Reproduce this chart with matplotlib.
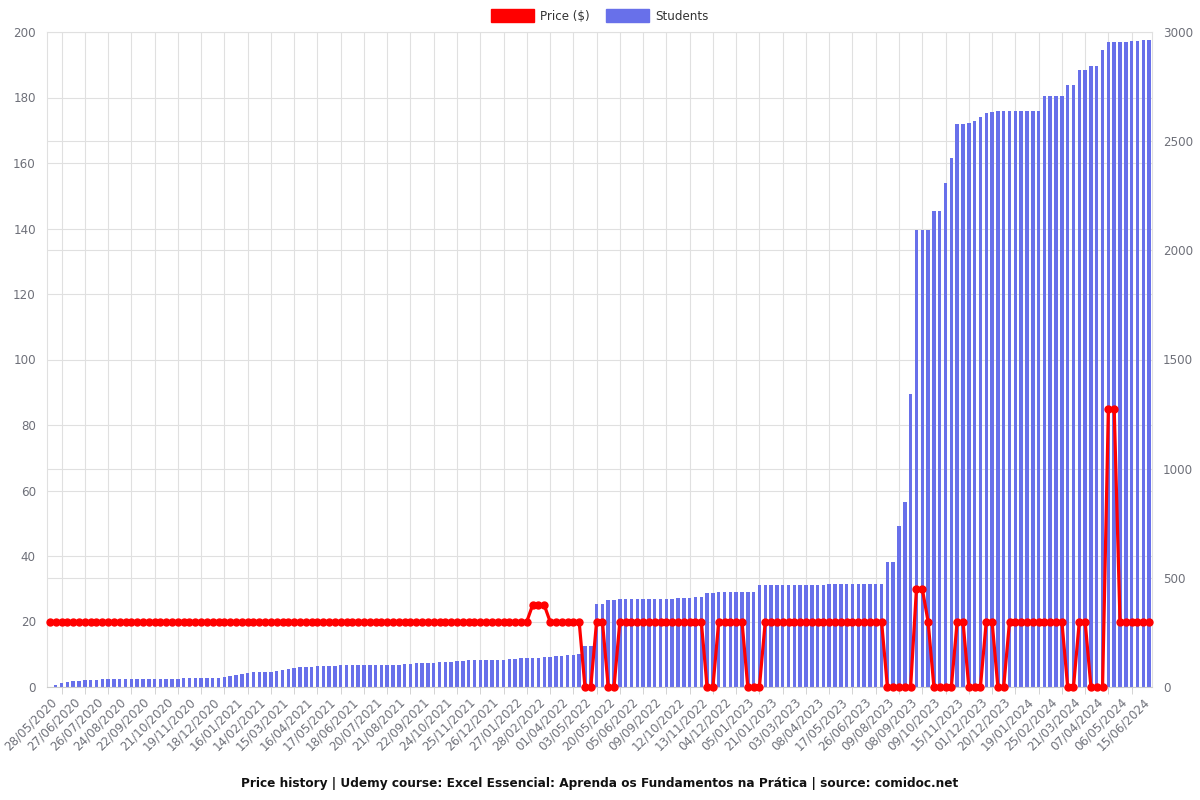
import matplotlib.pyplot as plt
from matplotlib.patches import Patch
from matplotlib.ticker import MultipleLocator, FixedLocator

# Etiquetas del eje X (una cada 4 fechas)
tick_labels = [
    "28/05/2020", "27/06/2020", "26/07/2020", "24/08/2020", "22/09/2020", "21/10/2020",
    "19/11/2020", "18/12/2020", "16/01/2021", "14/02/2021", "15/03/2021", "16/04/2021",
    "17/05/2021", "18/06/2021", "20/07/2021", "21/08/2021", "22/09/2021", "24/10/2021",
    "25/11/2021", "26/12/2021", "27/01/2022", "28/02/2022", "01/04/2022", "03/05/2022",
    "20/05/2022", "05/06/2022", "09/09/2022", "12/10/2022", "13/11/2022", "04/12/2022",
    "05/01/2023", "21/01/2023", "03/03/2023", "08/04/2023", "17/05/2023", "26/06/2023",
    "09/08/2023", "08/09/2023", "09/10/2023", "15/11/2023", "01/12/2023", "20/12/2023",
    "19/01/2024", "25/02/2024", "21/03/2024", "07/04/2024", "06/05/2024", "15/06/2024",
]

# Precio ($) por fecha
price = ([20] * 83 + [25] * 3 + [20] * 6 + [0] * 2 + [20] * 2 + [0] * 2 + [20] * 15
         + [0] * 2 + [20] * 5 + [0] * 3 + [20] * 21 + [0] * 5 + [30] * 2 + [20]
         + [0] * 4 + [20] * 2 + [0] * 3 + [20] * 2 + [0] * 2 + [20] * 10 + [0] * 2
         + [20] * 2 + [0] * 3 + [85] * 2 + [20] * 6)

# Estudiantes por fecha
students = [
    0, 8, 18, 23, 26, 29, 31, 32, 34, 35, 36, 37, 37, 38,
    38, 38, 38, 38, 38, 38, 38, 38, 38,
    39, 39, 39, 40, 40, 40, 41,
    48, 50, 54, 61, 66, 67, 67, 67, 69, 72, 76, 82, 89, 90, 90, 92, 95, 97, 98, 98,
    99, 99, 102, 102, 102, 102, 102, 102, 102, 102, 102, 104, 107, 109, 110, 110,
    112, 113, 115, 116, 118, 121, 122, 122, 122, 122, 124, 125, 125, 128, 130, 131,
    133, 133, 134, 136, 138, 141, 144, 145, 147, 150, 186, 186, 382, 382, 399, 400,
    403, 403, 403, 403,
    405, 405, 405, 405, 405, 405, 406, 408, 409, 414, 414, 429, 431,
    437, 437, 437, 437, 437, 437, 437,
    469, 469, 469, 469, 469, 469, 469, 469, 469, 469, 469, 469,
    473, 473, 473, 473, 473, 473, 473, 473, 473, 473,
    573, 573, 736, 849, 1344, 2093, 2093, 2093, 2180, 2180, 2308, 2423,
    2579, 2580, 2585, 2592, 2610, 2630, 2632,
    2638, 2638, 2640, 2640, 2640, 2640, 2640, 2640,
    2709, 2709, 2709, 2709, 2755, 2755, 2828, 2828, 2846, 2846, 2916,
    2954, 2954, 2954, 2954, 2959, 2959, 2965, 2965,
]

GRAY = "#6E7079"
GRID = "#E0E0E0"
BAR = "#6870EA"

x = list(range(len(students)))

fig = plt.figure(figsize=(12, 8), dpi=100)
fig.subplots_adjust(left=47 / 1200, right=1152 / 1200, top=1 - 32 / 800, bottom=1 - 687 / 800)

# Eje de estudiantes (barras) y eje de precio (línea, encima)
ax_s = fig.add_subplot(111)
ax_p = ax_s.twinx()

ax_s.bar(x, students, width=0.6, color=BAR, zorder=2)
ax_s.set_xlim(-0.5, len(students) - 0.5)
ax_s.set_ylim(0, 3000)
ax_s.yaxis.tick_right()
ax_s.yaxis.set_label_position("right")
ax_s.yaxis.set_major_locator(MultipleLocator(500))
ax_s.yaxis.set_minor_locator(MultipleLocator(300))
ax_s.tick_params(axis="y", which="both", length=0, pad=8, labelsize=8.6,
                 labelcolor=GRAY, left=False, labelleft=False, right=True, labelright=True)
ax_s.grid(axis="y", which="both", color=GRID, linewidth=0.8, zorder=0)

ax_s.set_xticks(range(0, len(students), 4))
ax_s.set_xticklabels(tick_labels, rotation=45, ha="right", rotation_mode="anchor",
                     fontsize=8.6, color=GRAY)
ax_s.xaxis.set_minor_locator(FixedLocator(range(2, len(students), 4)))
ax_s.tick_params(axis="x", which="major", length=0, pad=6)
ax_s.tick_params(axis="x", which="minor", length=5, color="#CCCCCC")
ax_s.grid(axis="x", which="minor", color=GRID, linewidth=0.8, zorder=0)
ax_s.set_axisbelow(True)
for side in ["left", "right", "top"]:
    ax_s.spines[side].set_color(GRID)
ax_s.spines["bottom"].set_color("#CCCCCC")

ax_p.plot(x, price, color="red", linewidth=2.3, marker="o", markersize=5,
          clip_on=False, zorder=3)
ax_p.set_ylim(0, 200)
ax_p.yaxis.tick_left()
ax_p.yaxis.set_major_locator(MultipleLocator(20))
ax_p.tick_params(axis="y", length=0, pad=8, labelsize=8.6, labelcolor=GRAY,
                 right=False, labelright=False, left=True, labelleft=True)
for side in ["left", "right", "top", "bottom"]:
    ax_p.spines[side].set_visible(False)

handles = [Patch(facecolor="red", edgecolor="red", label="Price ($)"),
           Patch(facecolor=BAR, edgecolor=BAR, label="Students")]
fig.legend(handles=handles, loc="center", bbox_to_anchor=(0.5, 1 - 16 / 800), ncol=2,
           frameon=False, fontsize=8.6, handlelength=3.6, handleheight=1.2,
           columnspacing=1.4, handletextpad=0.5, labelcolor="#333333")

fig.text(0.5, 1 - 783 / 800,
         "Price history | Udemy course: Excel Essencial: Aprenda os Fundamentos na Prática | source: comidoc.net",
         ha="center", va="center", fontsize=8.7, fontweight="bold", color="#111111")

plt.savefig("out.png", dpi=100)
